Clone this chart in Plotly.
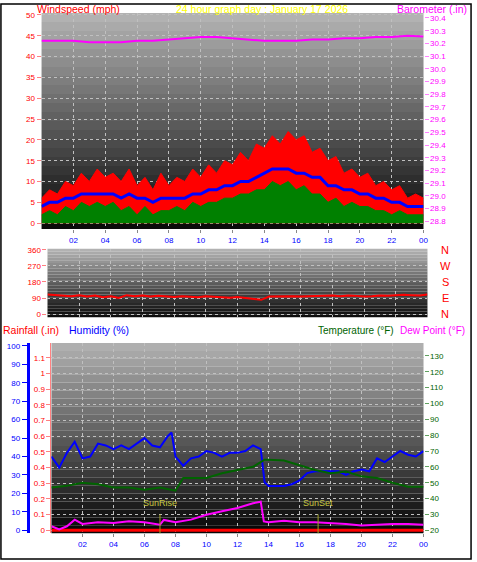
import plotly.graph_objects as go

hours = [i * 0.5 for i in range(49)]
gust = [6,8,7,10,9,12,10,13,11,12,10,13,9,11,8,12,9,11,10,13,11,14,12,15,14,17,15,19,18,21,19,22,20,21,17,18,15,16,12,13,11,12,9,10,8,9,6,7,6]
avg = [4,5,5,6,6,7,7,7,7,7,6,7,6,6,5,6,6,6,6,7,7,8,8,9,9,10,10,11,12,13,13,13,12,12,11,11,9,9,8,8,7,7,6,6,5,5,4,4,4]
low = [2,3,2,4,3,5,4,5,4,5,3,4,2,4,2,3,3,4,3,5,4,5,5,6,6,7,7,8,8,10,9,10,8,9,7,7,5,6,4,5,4,4,3,3,2,3,2,2,2]
baro_t = list(range(25))
baro = [30.22,30.22,30.22,30.21,30.21,30.21,30.22,30.22,30.23,30.24,30.25,30.25,30.24,30.23,30.22,30.22,30.22,30.23,30.23,30.24,30.24,30.25,30.25,30.26,30.255]
wdir = [110,108,104,100,106,98,104,95,100,90,106,100,104,98,103,100,96,100,98,95,100,98,97,92,96,90,86,80,98,100,98,100,99,100,102,100,104,100,104,102,98,100,104,103,106,108,106,104,110]
hum_t = [0,0.5,1,1.5,2,2.5,3,3.5,4,4.5,5,5.5,6,6.5,7,7.5,7.75,8,8.5,9,9.5,10,10.5,11,11.5,12,12.5,13,13.5,13.75,14,14.5,15,15.5,16,16.5,17,17.5,18,18.5,19,19.5,20,20.5,21,21.5,22,22.5,23,23.5,24]
hum = [40,34,42,48,39,40,47,46,44,46,44,47,50,46,45,51,53,40,35,39,40,43,42,40,42,42,43,46,44,26,24,24,24,25,27,31,32,32,32,32,30,32,33,32,39,37,40,43,41,40,43]
temp_t = [0,1,2,3,4,5,6,7,8,8.5,9,10,11,12,13,13.75,14,15,16,17,18,19,20,21,22,23,24]
temp = [47,48,50,49,47,47,45.5,47,45,53,53,53,56,58,60,64.5,64.5,64,61,58,56,57,54,53,50,47.5,47.5]
dew_t = [0,0.5,1,1.5,2,3,4,5,6,7,7.25,8,9,10,11,12,13,13.5,13.7,14,15,16,17,18,19,20,21,22,23,24]
dew = [22.5,20.5,22.5,26.7,24,25,24.6,25.6,25,23.5,26.5,25,26.7,29.8,32,34,37,38,25.6,25,26,25,25,24.5,24,23,23.5,24,24,23.5]
rain_t = [0, 24]
rain = [0, 0]
xtick_vals = [2,4,6,8,10,12,14,16,18,20,22,24]
xtick_text = ["02","04","06","08","10","12","14","16","18","20","22","00"]
sun_t = [7.0, 17.2]
sun_lbl = ["SunRise", "SunSet"]

W, H = 477, 562
def py(p): return 1 - p / H
def px(p): return p / W

fig = go.Figure()
F = "Arial"
fig.add_trace(go.Scatter(x=hours, y=gust, mode="lines", line=dict(color="#ff0000", width=1), fill="tozeroy", fillcolor="#ff0000", xaxis="x", yaxis="y"))
fig.add_trace(go.Scatter(x=hours, y=avg, mode="lines", line=dict(color="#0000ff", width=3), xaxis="x", yaxis="y"))
fig.add_trace(go.Scatter(x=hours, y=low, mode="lines", line=dict(color="#008000", width=1), fill="tozeroy", fillcolor="#008000", xaxis="x", yaxis="y"))
fig.add_trace(go.Scatter(x=baro_t, y=baro, mode="lines", line=dict(color="#ff00ff", width=2), xaxis="x", yaxis="y2"))
fig.add_trace(go.Scatter(x=hours, y=wdir, mode="lines", line=dict(color="#ff0000", width=2), xaxis="x2", yaxis="y3"))
fig.add_trace(go.Scatter(x=hum_t, y=hum, mode="lines", line=dict(color="#0000ff", width=2), xaxis="x3", yaxis="y4"))
fig.add_trace(go.Scatter(x=temp_t, y=temp, mode="lines", line=dict(color="#006400", width=2), xaxis="x3", yaxis="y6"))
fig.add_trace(go.Scatter(x=dew_t, y=dew, mode="lines", line=dict(color="#ff00ff", width=2), xaxis="x3", yaxis="y6"))
fig.add_trace(go.Scatter(x=rain_t, y=rain, mode="lines", line=dict(color="#ff0000", width=3), xaxis="x3", yaxis="y5"))

d1 = [py(228), py(10)]; d2 = [py(317), py(248)]; d3 = [py(535), py(343)]
tf = dict(size=8, family=F)
grid = dict(showgrid=True, gridcolor="#c0c0c0", griddash="dot", gridwidth=1, zeroline=False)
xcommon = dict(range=[0, 24], tickvals=xtick_vals, ticktext=xtick_text, tickfont=dict(size=8, family=F, color="#0000ff"), ticks="outside", ticklen=3, tickcolor="#888", **grid)
fig.update_layout(
    width=W, height=H, margin=dict(l=0, r=0, t=0, b=0), paper_bgcolor="white", plot_bgcolor="rgba(0,0,0,0)", showlegend=False,
    xaxis=dict(domain=[px(42), px(428)], anchor="y", **xcommon),
    xaxis2=dict(domain=[px(48), px(432)], anchor="y3", range=[0, 24], tickvals=xtick_vals, showticklabels=False, **grid),
    xaxis3=dict(domain=[px(52), px(428)], anchor="y5", **xcommon),
    yaxis=dict(domain=d1, range=[-1.4, 50.5], tickvals=list(range(0, 51, 5)), tickfont=dict(tf, color="#ff0000"), ticks="outside", ticklen=4, tickcolor="#ff8080", **grid),
    yaxis2=dict(domain=d1, overlaying="y", side="right", range=[28.74, 30.44], tickvals=[round(28.8 + 0.1 * i, 1) for i in range(17)], tickformat=".1f", tickfont=dict(tf, color="#ff00ff"), ticks="outside", ticklen=4, tickcolor="#ff80ff", showgrid=False, zeroline=False),
    yaxis3=dict(domain=d2, anchor="x2", range=[-17, 365], tickvals=[0, 90, 180, 270, 360], tickfont=dict(tf, color="#ff0000"), ticks="outside", ticklen=4, tickcolor="#ff8080", **grid),
    yaxis4=dict(domain=d3, anchor="free", overlaying="y5", position=px(28), range=[-1.6, 101.6], tickvals=list(range(0, 101, 10)), tickfont=dict(tf, color="#0000ff"), ticks="outside", ticklen=5, tickcolor="#0000ff", showline=True, linecolor="#0000ff", linewidth=3, showgrid=False, zeroline=False),
    yaxis5=dict(domain=d3, anchor="x3", range=[-0.019, 1.194], tickvals=[round(0.1 * i, 1) for i in range(12)], tickfont=dict(tf, color="#ff0000"), ticks="outside", ticklen=4, tickcolor="#ff8080", showline=True, linecolor="#ff8080", linewidth=1, **grid),
    yaxis6=dict(domain=d3, overlaying="y5", side="right", anchor="x3", range=[18.1, 138.2], tickvals=list(range(20, 131, 10)), tickfont=dict(tf, color="#006400"), ticks="outside", ticklen=4, tickcolor="#60a060", showgrid=False, zeroline=False),
)

shapes = []
def gradient(x0, x1, y0, y1, top, bot, n=24):
    for i in range(n):
        f = i / (n - 1)
        c = int(top + (bot - top) * f)
        shapes.append(dict(type="rect", xref="paper", yref="paper", x0=px(x0), x1=px(x1),
                           y0=py(y0 + (y1 - y0) * (i + 1) / n), y1=py(y0 + (y1 - y0) * i / n),
                           fillcolor=f"rgb({c},{c},{c})", line=dict(width=0), layer="below"))
gradient(42, 428, 10, 228, 178, 10)
gradient(48, 432, 248, 317, 178, 12)
gradient(52, 428, 343, 535, 175, 8)
shapes.append(dict(type="rect", xref="paper", yref="paper", x0=0.002, x1=0.998, y0=0.002, y1=0.998, line=dict(color="black", width=1.5)))
for t in sun_t:
    shapes.append(dict(type="line", xref="x3", yref="paper", x0=t, x1=t, y0=d3[0], y1=py(516), line=dict(color="#a0a020", width=1)))
fig.update_layout(shapes=shapes)

ann = []
def A(x, y, t, c, anc="left", s=11):
    ann.append(dict(xref="paper", yref="paper", x=px(x), y=py(y), text=t, showarrow=False, xanchor=anc, yanchor="middle", font=dict(family=F, size=s, color=c)))
A(35, 6, "Windspeed (mph)", "#ff0000", s=10.5)
A(265, 6, "24 hour graph day : January 17 2026", "#ffff00", "center", s=10.5)
A(474, 6, "Barometer (.in)", "#ff00ff", "right", s=10.5)
for lab, yy in zip(["N", "W", "S", "E", "N"], [249, 265, 282, 298, 314]):
    A(450, yy, lab, "#ff0000", "center", 11)
A(1, 330, "Rainfall (.in)", "#ff0000", s=10.5)
A(68, 330, "Humidity (%)", "#0000ff", s=10.5)
A(319, 330, "Temperature (°F)", "#006400", s=10)
A(472, 330, "Dew Point (°F)", "#ff00ff", "right", s=10)
for t, l in zip(sun_t, sun_lbl):
    ann.append(dict(xref="x3", yref="paper", x=t, y=py(512), text=l, showarrow=False, xanchor="center", font=dict(family=F, size=9, color="#c8c840")))
fig.update_layout(annotations=ann)
fig.write_html("out.html", config={"displayModeBar": False}, post_script="document.body.style.margin='0';document.body.style.overflow='hidden';")
